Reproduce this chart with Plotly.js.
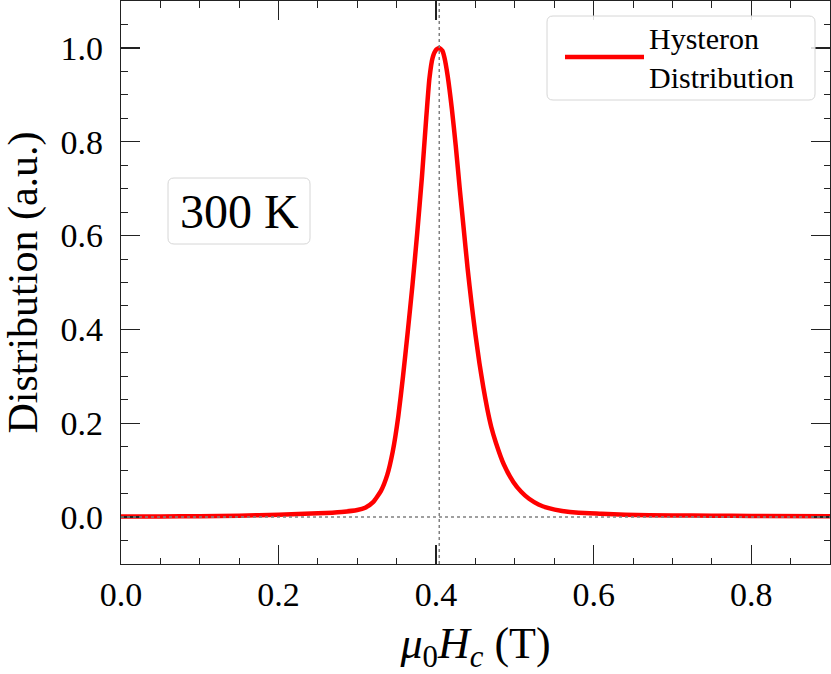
<!DOCTYPE html>
<html>
<head>
<meta charset="utf-8">
<script src="https://cdn.plot.ly/plotly-3.0.1.min.js"></script>
<style>
  html, body { margin: 0; padding: 0; background: #fff; }
  #chart { width: 831px; height: 674px; }
</style>
</head>
<body>
<div id="chart"></div>
<script>
// Hysteron distribution (x in T, y normalised).
var hcField = [0.000, 0.050, 0.100, 0.150, 0.200, 0.250, 0.280, 0.300, 0.310, 0.320,
               0.330, 0.338, 0.345, 0.352, 0.358, 0.364, 0.370, 0.376, 0.382, 0.387,
               0.3915, 0.3957, 0.400, 0.404, 0.408, 0.4105, 0.4147, 0.420, 0.425, 0.430,
               0.435, 0.440, 0.445, 0.450, 0.455, 0.460, 0.465, 0.470, 0.476, 0.486,
               0.498, 0.508, 0.518, 0.530, 0.543, 0.560, 0.581, 0.610, 0.640, 0.700,
               0.750, 0.800, 0.900];
var hysteronDist = [0.001, 0.0015, 0.002, 0.003, 0.005, 0.008, 0.011, 0.015, 0.020, 0.032,
                    0.056, 0.090, 0.140, 0.215, 0.300, 0.395, 0.495, 0.605, 0.725, 0.840,
                    0.935, 0.980, 0.996, 1.000, 0.994, 0.980, 0.940, 0.870, 0.790, 0.700,
                    0.615, 0.530, 0.455, 0.388, 0.328, 0.276, 0.230, 0.192, 0.158, 0.112,
                    0.075, 0.054, 0.039, 0.027, 0.019, 0.013, 0.009, 0.007, 0.005, 0.0035,
                    0.003, 0.0025, 0.002];
var peakField = 0.404;
var seriesName = "Hysteron<br>Distribution";
var tempLabel = "300 K";
var xTicks = [0.0, 0.2, 0.4, 0.6, 0.8];
var yTicks = [0.0, 0.2, 0.4, 0.6, 0.8, 1.0];

(function () {
  "use strict";

  var W = 831, H = 674;
  var M = { l: 121, r: 1, t: 1, b: 110 };
  var FONT = "'Liberation Serif', 'DejaVu Serif', serif";
  var INK = "#222";

  // pixel -> paper helpers for the decorative boxes
  function px(x) { return (x - M.l) / (W - M.l - M.r); }
  function py(y) { return 1 - (y - M.t) / (H - M.t - M.b); }
  function roundedBox(x0, y0, x1, y1, r) {
    var p = [
      "M", px(x0 + r), py(y0),
      "L", px(x1 - r), py(y0),
      "Q", px(x1), py(y0), px(x1), py(y0 + r),
      "L", px(x1), py(y1 - r),
      "Q", px(x1), py(y1), px(x1 - r), py(y1),
      "L", px(x0 + r), py(y1),
      "Q", px(x0), py(y1), px(x0), py(y1 - r),
      "L", px(x0), py(y0 + r),
      "Q", px(x0), py(y0), px(x0 + r), py(y0), "Z"
    ];
    return p.join(" ");
  }

  function axis(extra) {
    var a = {
      ticks: "inside", ticklen: 19, tickwidth: 1.3, tickcolor: INK,
      showline: true, linecolor: INK, linewidth: 1.3, mirror: "allticks",
      showgrid: false, zeroline: false, tickformat: ".1f",
      tickfont: { family: FONT, size: 34, color: "#000" },
      minor: { dtick: 0.05, ticks: "inside", ticklen: 6.5, tickwidth: 1, tickcolor: INK, showgrid: false }
    };
    for (var k in extra) { a[k] = extra[k]; }
    return a;
  }

  var traces = [{
    x: hcField, y: hysteronDist, name: seriesName,
    type: "scatter", mode: "lines",
    line: { color: "#ff0000", width: 4.5, shape: "spline", smoothing: 0.5 },
    hoverinfo: "x+y"
  }];

  var layout = {
    width: W, height: H,
    margin: M,
    paper_bgcolor: "#fff", plot_bgcolor: "#fff",
    font: { family: FONT, color: "#000" },
    showlegend: true,
    legend: {
      x: px(560), y: py(57), xanchor: "left", yanchor: "middle",
      bgcolor: "rgba(0,0,0,0)", borderwidth: 0,
      font: { family: FONT, size: 30, color: "#000" },
      itemwidth: 79
    },
    xaxis: axis({
      range: [0, 0.9], tickvals: xTicks, ticklabelstandoff: 0,
      title: { text: "<i>μ</i><sub>0</sub><i>H</i><sub><i>c</i></sub> (T)", font: { family: FONT, size: 44 }, standoff: 22 }
    }),
    yaxis: axis({
      range: [-0.1, 1.1], tickvals: yTicks, ticklabelstandoff: 10,
      title: { text: "Distribution (a.u.)", font: { family: FONT, size: 42 }, standoff: 14 }
    }),
    shapes: [
      { type: "line", xref: "x", yref: "paper", x0: peakField, x1: peakField, y0: 0, y1: 1,
        line: { color: "#808080", width: 1.5, dash: "dot" }, layer: "above" },
      { type: "line", xref: "paper", yref: "y", x0: 0, x1: 1, y0: 0, y1: 0,
        line: { color: "#808080", width: 1.5, dash: "dot" }, layer: "above" },
      { type: "path", xref: "paper", yref: "paper", path: roundedBox(547, 16, 815, 100, 6),
        fillcolor: "rgba(255,255,255,0.85)", line: { color: "#d6d6d6", width: 1 }, layer: "above" },
      { type: "path", xref: "paper", yref: "paper", path: roundedBox(168, 178, 310, 244, 6),
        fillcolor: "rgba(255,255,255,0.85)", line: { color: "#d6d6d6", width: 1 }, layer: "above" }
    ],
    annotations: [{
      xref: "paper", yref: "paper", x: px(239), y: py(211), xanchor: "center", yanchor: "middle",
      text: tempLabel, showarrow: false, font: { family: FONT, size: 48, color: "#000" }
    }]
  };

  Plotly.newPlot("chart", traces, layout, { displayModeBar: false, staticPlot: true });
})();
</script>
</body>
</html>
